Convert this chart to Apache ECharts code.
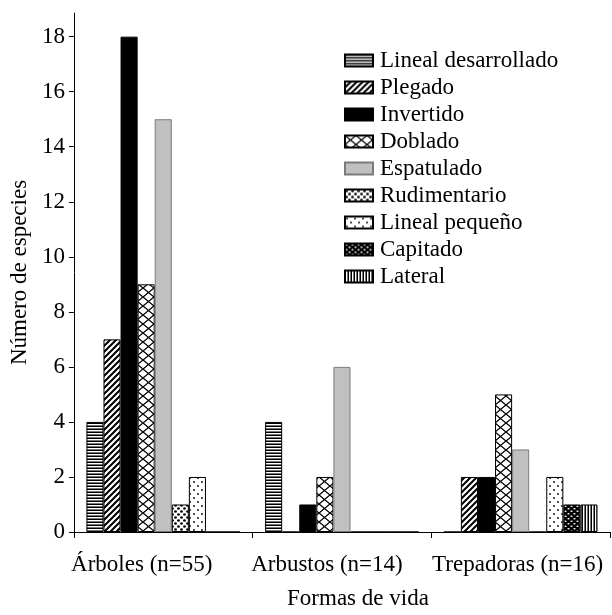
<!DOCTYPE html>
<html>
<head>
<meta charset="utf-8">
<script src="https://cdn.jsdelivr.net/npm/echarts@6/dist/echarts.min.js"></script>
<style>
  html, body { margin: 0; padding: 0; background: #fff; }
  #chart { width: 612px; height: 615px; }
</style>
</head>
<body>
<div id="chart"></div>
<script>
const categories = ['Árboles (n=55)', 'Arbustos (n=14)', 'Trepadoras (n=16)']
const seriesNames = ['Lineal desarrollado', 'Plegado', 'Invertido', 'Doblado', 'Espatulado',
  'Rudimentario', 'Lineal pequeño', 'Capitado', 'Lateral']
const linealDesarrollado = [4, 4, 0]
const plegado = [7, 0, 2]
const invertido = [18, 1, 2]
const doblado = [9, 2, 5]
const espatulado = [15, 6, 3]
const rudimentario = [1, 0, 0]
const linealPequeno = [2, 0, 2]
const capitado = [0, 0, 1]
const lateral = [0, 0, 1]
const yTicks = [0, 2, 4, 6, 8, 10, 12, 14, 16, 18]

const FONT = 'Liberation Serif'
// small horizontal shifts of the category labels as in the reference
const labelShift = [43, 30, 6]

function pattern(w, h, draw) {
  const c = document.createElement('canvas')
  c.width = w
  c.height = h
  const ctx = c.getContext('2d')
  draw(ctx, w, h)
  return { image: c, repeat: 'repeat' }
}

function dot(ctx, x, y, rx, ry) {
  ctx.beginPath()
  ctx.ellipse(x, y, rx, ry, 0, 0, Math.PI * 2)
  ctx.fill()
}

const fills = [
  // horizontal lines
  pattern(4, 3, (ctx, w) => {
    ctx.fillStyle = '#fff'; ctx.fillRect(0, 0, w, 3)
    ctx.fillStyle = '#000'; ctx.fillRect(0, 0, w, 1)
    ctx.fillStyle = '#777'; ctx.fillRect(0, 2, w, 1)
  }),
  // diagonal stripes
  pattern(6, 6, (ctx) => {
    ctx.fillStyle = '#fff'; ctx.fillRect(0, 0, 6, 6)
    ctx.strokeStyle = '#000'; ctx.lineWidth = 2
    ctx.beginPath()
    ctx.moveTo(-1, 7); ctx.lineTo(7, -1)
    ctx.moveTo(-4, 4); ctx.lineTo(4, -4)
    ctx.moveTo(2, 10); ctx.lineTo(10, 2)
    ctx.stroke()
  }),
  '#000',
  // lattice
  pattern(11, 9, (ctx) => {
    ctx.fillStyle = '#fff'; ctx.fillRect(0, 0, 11, 9)
    ctx.strokeStyle = '#000'; ctx.lineWidth = 1.3
    ctx.beginPath()
    ctx.moveTo(0, 0); ctx.lineTo(11, 9)
    ctx.moveTo(11, 0); ctx.lineTo(0, 9)
    ctx.stroke()
  }),
  '#c0c0c0',
  // large dots
  pattern(6, 6, (ctx) => {
    ctx.fillStyle = '#fff'; ctx.fillRect(0, 0, 6, 6)
    ctx.fillStyle = '#000'
    dot(ctx, 1.5, 1.5, 1.4, 1.2)
    dot(ctx, 4.5, 4.5, 1.4, 1.2)
  }),
  // small sparse dots
  pattern(8, 8, (ctx) => {
    ctx.fillStyle = '#fff'; ctx.fillRect(0, 0, 8, 8)
    ctx.fillStyle = '#000'
    dot(ctx, 2, 2, 0.9, 0.9)
    dot(ctx, 6, 6, 0.9, 0.9)
  }),
  // black with white ovals
  pattern(6, 5, (ctx) => {
    ctx.fillStyle = '#000'; ctx.fillRect(0, 0, 6, 5)
    ctx.fillStyle = '#fff'
    dot(ctx, 1.5, 1.2, 1.2, 0.8)
    dot(ctx, 4.5, 3.7, 1.2, 0.8)
  }),
  // vertical lines
  pattern(3, 4, (ctx) => {
    ctx.fillStyle = '#fff'; ctx.fillRect(0, 0, 3, 4)
    ctx.fillStyle = '#000'; ctx.fillRect(0, 0, 1, 4)
    ctx.fillStyle = '#777'; ctx.fillRect(2, 0, 1, 4)
  })
]

const values = [linealDesarrollado, plegado, invertido, doblado, espatulado,
  rudimentario, linealPequeno, capitado, lateral]

const chart = echarts.init(document.getElementById('chart'), null, { renderer: 'canvas' })

const series = seriesNames.map((name, i) => ({
  name,
  type: 'bar',
  data: values[i],
  barGap: 0,
  barCategoryGap: '14%',
  itemStyle: {
    color: fills[i],
    borderColor: i === 4 ? '#7a7a7a' : '#000',
    borderWidth: 1
  }
}))

chart.setOption({
  animation: false,
  backgroundColor: '#fff',
  textStyle: { fontFamily: FONT, color: '#000' },
  grid: { left: 72, right: 2, top: 13, bottom: 75 },
  legend: {
    orient: 'vertical',
    left: 344,
    top: 49,
    padding: 0,
    itemWidth: 28,
    itemHeight: 12,
    itemGap: 4,
    icon: 'rect',
    data: seriesNames,
    textStyle: { fontFamily: FONT, fontSize: 23, color: '#000', lineHeight: 23, padding: [0, 0, 0, 2] }
  },
  xAxis: {
    type: 'category',
    data: categories,
    name: 'Formas de vida',
    nameLocation: 'middle',
    nameGap: 55,
    nameTextStyle: { fontFamily: FONT, fontSize: 23, color: '#000', padding: [0, 0, 0, 32] },
    axisLine: { lineStyle: { color: '#000', width: 1 } },
    axisTick: { show: true, length: 6, lineStyle: { color: '#000' } },
    axisLabel: {
      interval: 0,
      margin: 21,
      fontFamily: FONT,
      fontSize: 23,
      color: '#000',
      formatter: (v, idx) => '{l' + idx + '|' + v + '}',
      rich: {
        l0: { fontFamily: FONT, fontSize: 23, padding: [0, labelShift[0], 0, 0] },
        l1: { fontFamily: FONT, fontSize: 23, padding: [0, labelShift[1], 0, 0] },
        l2: { fontFamily: FONT, fontSize: 23, padding: [0, labelShift[2], 0, 0] }
      }
    }
  },
  yAxis: {
    type: 'value',
    min: 0,
    max: 18.86,
    interval: 2,
    name: 'Número de especies',
    nameLocation: 'middle',
    nameGap: 42,
    nameTextStyle: { fontFamily: FONT, fontSize: 23, color: '#000' },
    axisLine: { show: true, lineStyle: { color: '#000', width: 1 } },
    axisTick: { show: true, length: 5, lineStyle: { color: '#000' }, customValues: yTicks },
    axisLabel: { margin: 9, fontFamily: FONT, fontSize: 23, color: '#000', customValues: yTicks },
    splitLine: { show: false }
  },
  series
})
</script>
</body>
</html>
